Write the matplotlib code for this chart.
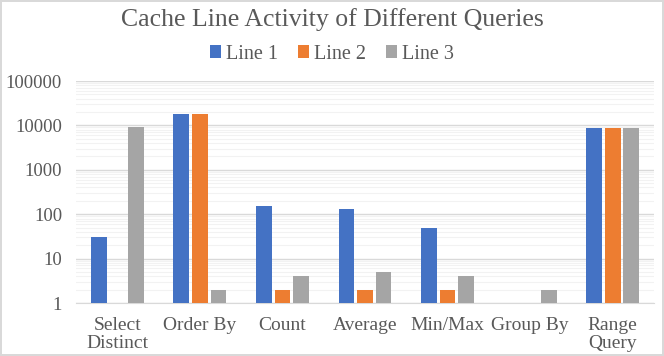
import numpy as np
import matplotlib.pyplot as plt
from matplotlib.ticker import FixedLocator, NullFormatter

plt.rcParams['font.family'] = ['Liberation Serif', 'DejaVu Serif']

categories = ['Select\nDistinct', 'Order By', 'Count', 'Average', 'Min/Max', 'Group By', 'Range\nQuery']
line1 = [30, 18000, 150, 130, 50, np.nan, 8800]
line2 = [np.nan, 18000, 2, 2, 2, np.nan, 8800]
line3 = [9000, 2, 4, 5, 4, 2, 8800]
series = {'Line 1': line1, 'Line 2': line2, 'Line 3': line3}
colors = ['#4472C4', '#ED7D31', '#A5A5A5']

fig = plt.figure(figsize=(6.64, 3.56), dpi=100)
fig.patch.set_edgecolor('#D9D9D9')
fig.patch.set_linewidth(1.5)
ax = fig.add_axes([76/664, 53/356, 578/664, 222/356])

x = np.arange(len(categories))
w = 0.19
for i, (name, vals) in enumerate(series.items()):
    ax.bar(x + (i - 1) * 0.225, vals, w, label=name, color=colors[i], zorder=3)

ax.set_yscale('log')
ax.set_ylim(1, 100000)
ax.set_xlim(-0.5, len(categories) - 0.5)
major = [1, 10, 100, 1000, 10000, 100000]
ax.yaxis.set_major_locator(FixedLocator(major))
ax.set_yticklabels([str(v) for v in major])
minor = [m * d for d in major[:-1] for m in range(2, 10)]
ax.yaxis.set_minor_locator(FixedLocator(minor))
ax.yaxis.set_minor_formatter(NullFormatter())
ax.grid(axis='y', which='major', color='#D9D9D9', lw=1, zorder=0)
ax.grid(axis='y', which='minor', color='#F2F2F2', lw=0.8, zorder=0)
ax.set_xticks(x)
ax.set_xticklabels(categories, linespacing=1.1)
ax.tick_params(axis='both', which='both', length=0, colors='#595959')
ax.tick_params(axis='x', labelsize=14, pad=10)
ax.tick_params(axis='y', labelsize=13.5, pad=10)
for s in ['top', 'right', 'left']:
    ax.spines[s].set_visible(False)
ax.spines['bottom'].set_color('#D9D9D9')

fig.text(0.5, 0.945, 'Cache Line Activity of Different Queries', ha='center', va='center',
         fontsize=18.5, color='#595959')
fig.legend(loc='center', bbox_to_anchor=(0.5, 0.848), ncol=3, frameon=False,
           fontsize=14.5, handlelength=0.55, handleheight=0.55, handletextpad=0.25,
           columnspacing=1.0, labelcolor='#595959')

fig.savefig('out.png', dpi=100)
